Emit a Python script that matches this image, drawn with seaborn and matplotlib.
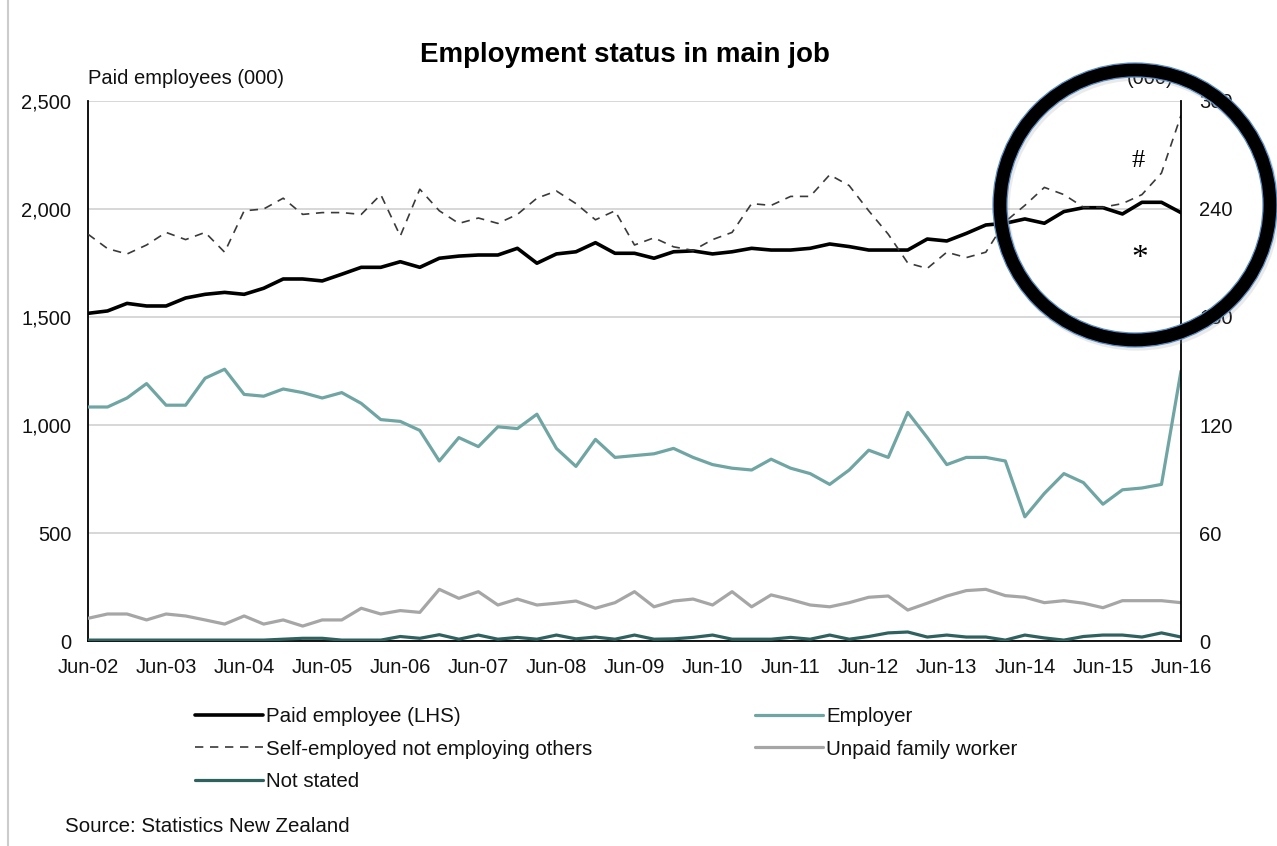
import numpy as np
import pandas as pd
import seaborn as sns
import matplotlib.pyplot as plt
from matplotlib.lines import Line2D
from matplotlib.patches import Ellipse
from matplotlib.ticker import FuncFormatter

# quarterly, Jun-02 .. Jun-16 (57 quarters)
tick_labels = ["Jun-02", "Jun-03", "Jun-04", "Jun-05", "Jun-06", "Jun-07", "Jun-08",
               "Jun-09", "Jun-10", "Jun-11", "Jun-12", "Jun-13", "Jun-14", "Jun-15", "Jun-16"]

paid_employee = [1517, 1528, 1563, 1551, 1551, 1588, 1605, 1614, 1605, 1633,
                 1676, 1676, 1667, 1698, 1730, 1730, 1756, 1730, 1772, 1782,
                 1787, 1787, 1818, 1749, 1792, 1802, 1844, 1795, 1795, 1772,
                 1802, 1806, 1792, 1802, 1818, 1810, 1810, 1818, 1838, 1826,
                 1810, 1810, 1810, 1861, 1852, 1887, 1926, 1934, 1954, 1934,
                 1988, 2006, 2006, 1977, 2031, 2031, 1983]

self_employed = [226, 218, 215, 220, 227, 223, 227, 216, 239, 240,
                 246, 237, 238, 238, 237, 248, 225, 251, 239, 232,
                 235, 232, 237, 246, 250, 243, 234, 239, 220, 224,
                 219, 217, 223, 227, 243, 242, 247, 247, 259, 253,
                 239, 226, 210, 207, 216, 213, 216, 233, 242, 252,
                 248, 241, 241, 243, 248, 260, 292]

employer = [130, 130, 135, 143, 131, 131, 146, 151, 137, 136,
            140, 138, 135, 138, 132, 123, 122, 117, 100, 113,
            108, 119, 118, 126, 107, 97, 112, 102, 103, 104,
            107, 102, 98, 96, 95, 101, 96, 93, 87, 95,
            106, 102, 127, 113, 98, 102, 102, 100, 69, 82,
            93, 88, 76, 84, 85, 87, 150]

unpaid_family = [12.6, 15, 15, 11.7, 15, 13.9, 11.7, 9.4, 13.9, 9.4,
                 11.7, 8.3, 11.7, 11.7, 18.2, 15, 16.9, 15.9, 28.7, 23.7,
                 27.4, 20, 23.3, 20, 21, 22.2, 18.2, 21.3, 27.4, 19,
                 22.2, 23.3, 20, 27.4, 19, 25.6, 23, 20, 19, 21.3,
                 24.3, 25, 17.2, 21, 25, 28, 28.7, 25.2, 24.3, 21.3,
                 22.4, 21, 18.5, 22.4, 22.4, 22.4, 21.3]

not_stated = [0.5, 0.5, 0.5, 0.5, 0.5, 0.5, 0.5, 0.5, 0.5, 0.5,
              1, 1.5, 1.5, 0.5, 0.5, 0.5, 2.5, 1.5, 3.5, 1,
              3.3, 1, 2, 1, 3.3, 1.2, 2.2, 1, 3.3, 1,
              1.2, 2, 3.3, 1, 1, 1, 2, 1, 3.3, 1,
              2.5, 4.5, 5, 2.2, 3.3, 2.2, 2.2, 0.5, 3.3, 1.7,
              0.5, 2.5, 3.3, 3.3, 2.2, 4.5, 2.2]

df = pd.DataFrame({
    "q": np.arange(len(paid_employee)),
    "paid": paid_employee,
    "self": self_employed,
    "employer": employer,
    "unpaid": unpaid_family,
    "notstated": not_stated,
})

sns.set_style("white")
plt.rcParams["font.family"] = ["Liberation Sans", "DejaVu Sans"]
plt.rcParams["text.color"] = "black"

W, H = 1277, 846
fig = plt.figure(figsize=(W / 100, H / 100), dpi=100)
ax = fig.add_axes([88 / W, 1 - 641 / H, (1181 - 88) / W, (641 - 101) / H])
ax2 = ax.twinx()

c_black = "black"
c_emp = "#6fa5a2"
c_unpaid = "#a6a6a6"
c_ns = "#2f625f"
c_self = "#3a3a3a"

sns.lineplot(data=df, x="q", y="paid", ax=ax, color=c_black, lw=2.6)
sns.lineplot(data=df, x="q", y="unpaid", ax=ax2, color=c_unpaid, lw=2.3)
sns.lineplot(data=df, x="q", y="employer", ax=ax2, color=c_emp, lw=2.3)
sns.lineplot(data=df, x="q", y="notstated", ax=ax2, color=c_ns, lw=2.3)
sns.lineplot(data=df, x="q", y="self", ax=ax2, color=c_self, lw=1.2,
             linestyle=(0, (5, 4)))

ax.set_xlim(0, len(paid_employee) - 1)
ax.set_ylim(0, 2500)
ax2.set_ylim(0, 300)
ax.set_yticks(np.arange(0, 2501, 500))
ax2.set_yticks(np.arange(0, 301, 60))
ax.set_xticks(np.arange(0, len(paid_employee), 4))
ax.set_xticklabels(tick_labels)
ax.yaxis.set_major_formatter(FuncFormatter(lambda v, p: f"{int(v):,}"))

ax.set_xlabel("")
ax.set_ylabel("")
ax2.set_ylabel("")
ax.yaxis.grid(True, color="#d4d4d4", lw=1.3)
ax.set_axisbelow(True)

for a in (ax, ax2):
    a.spines["top"].set_visible(False)
ax.spines["right"].set_visible(False)
ax2.spines["left"].set_visible(False)
ax2.spines["bottom"].set_visible(False)
ax.spines["left"].set_color("black")
ax.spines["bottom"].set_color("black")
ax2.spines["right"].set_color("black")
for s in (ax.spines["left"], ax.spines["bottom"], ax2.spines["right"]):
    s.set_linewidth(1.3)

ax.tick_params(axis="y", length=0, pad=12, labelsize=14.5, colors="#111111")
ax2.tick_params(axis="y", length=0, pad=13, labelsize=14.5, colors="#111111")
ax.tick_params(axis="x", direction="out", length=6.5, width=1.3, pad=6,
               labelsize=14.5, colors="black", labelcolor="#111111")

fig.text(625 / W, 1 - 55 / H, "Employment status in main job", ha="center",
         va="center", fontsize=20, fontweight="bold", color="black")
fig.text(88 / W, 1 - 78 / H, "Paid employees (000)", ha="left", va="center",
         fontsize=14.5, color="#111111")
fig.text(1173 / W, 1 - 79 / H, "(000)", ha="right", va="center",
         fontsize=14.5, color="#111111")
fig.text(65 / W, 1 - 826 / H, "Source: Statistics New Zealand", ha="left",
         va="center", fontsize=14.8, color="#111111")

# legend
h_paid = Line2D([], [], color=c_black, lw=2.6)
h_self = Line2D([], [], color=c_self, lw=1.2, linestyle=(0, (5, 4)))
h_ns = Line2D([], [], color=c_ns, lw=2.3)
h_emp = Line2D([], [], color=c_emp, lw=2.3)
h_unp = Line2D([], [], color=c_unpaid, lw=2.3)
leg_kw = dict(loc="upper left", frameon=False, fontsize=14.8, handlelength=3.3,
              handletextpad=0.15, labelspacing=0.66, borderpad=0, borderaxespad=0,
              labelcolor="#111111")
fig.legend([h_paid, h_self, h_ns],
           ["Paid employee (LHS)", "Self-employed not employing others", "Not stated"],
           bbox_to_anchor=(195 / W, 1 - 707 / H), **leg_kw)
fig.legend([h_emp, h_unp], ["Employer", "Unpaid family worker"],
           bbox_to_anchor=(755 / W, 1 - 707 / H), **leg_kw)

# chart frame edge
fig.add_artist(Line2D([8 / W, 8 / W], [0, 1], transform=fig.transFigure,
                      color="#cccccc", lw=1.5))

# circle callout
cx, cy, r = 1135, 205, 135
fig.add_artist(Ellipse(((cx + 2) / W, 1 - (cy + 3) / H), 2 * r / W, 2 * r / H,
                       transform=fig.transFigure, fill=False, ec="#999999",
                       lw=11, alpha=0.2, zorder=9))
fig.add_artist(Ellipse((cx / W, 1 - cy / H), 2 * r / W, 2 * r / H,
                       transform=fig.transFigure, fill=False, ec="black",
                       lw=10, zorder=10))
for rr in (r - 7, r + 7):
    fig.add_artist(Ellipse((cx / W, 1 - cy / H), 2 * rr / W, 2 * rr / H,
                           transform=fig.transFigure, fill=False, ec="#5b8ec4",
                           lw=0.9, zorder=11))
fig.text(1138 / W, 1 - 161 / H, "#", ha="center", va="center", fontsize=19,
         family=["Liberation Serif", "DejaVu Serif"], zorder=12)
fig.text(1140 / W, 1 - 259 / H, "*", ha="center", va="center", fontsize=24,
         family=["Liberation Serif", "DejaVu Serif"], zorder=12)

fig.savefig("out.png", dpi=100)
